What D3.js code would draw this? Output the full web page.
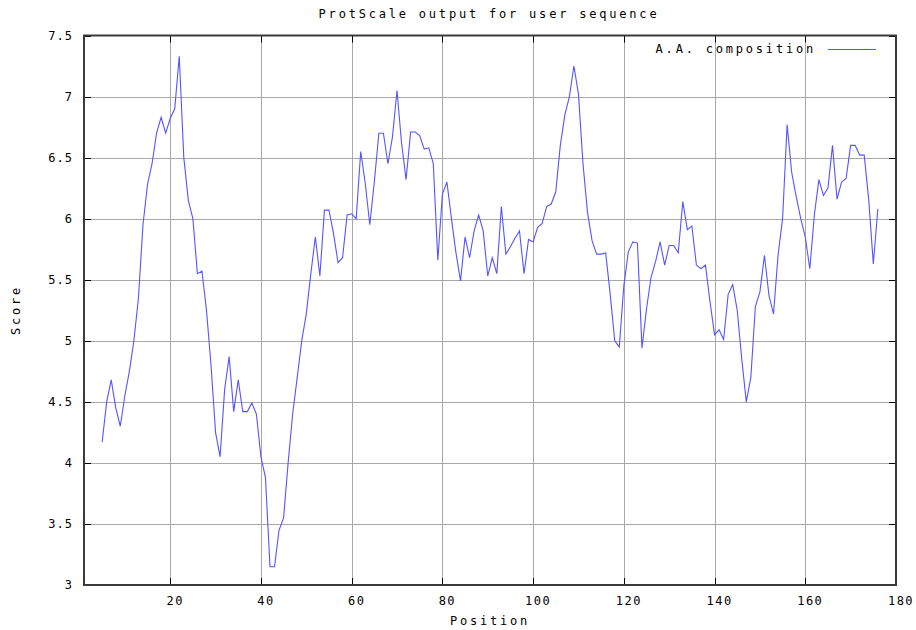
<!DOCTYPE html>
<html>
<head>
<meta charset="utf-8">
<title>ProtScale output for user sequence</title>
<script src="https://cdn.jsdelivr.net/npm/d3@7"></script>
<style>
	body { margin:0; background:#fff; }
	svg text { font-family:"DejaVu Sans Mono", monospace; fill:#000; }
</style>
</head>
<body>
<div id="chart"></div>
<script>

// Data
//---------
var title = "ProtScale output for user sequence";
var seriesName = "A.A. composition";
var xLabel = "Position";
var yLabel = "Score";

var xTicks = [20, 40, 60, 80, 100, 120, 140, 160, 180];
var yTicks = [3, 3.5, 4, 4.5, 5, 5.5, 6, 6.5, 7, 7.5];

// first position of the window (window size 9)
var startPosition = 5;

// scores, one per position from startPosition
var scores = [
	4.17, 4.50, 4.68, 4.45, 4.30, 4.55, 4.75, 5.00, 5.35, 5.95,   // 5-14
	6.28, 6.45, 6.70, 6.83, 6.70, 6.82, 6.90, 7.33, 6.50, 6.15,   // 15-24
	6.00, 5.55, 5.57, 5.25, 4.80, 4.25, 4.05, 4.60, 4.87, 4.42,   // 25-34
	4.68, 4.42, 4.42, 4.49, 4.40, 4.05, 3.88, 3.15, 3.15, 3.45,   // 35-44
	3.55, 4.00, 4.40, 4.70, 5.00, 5.22, 5.55, 5.85, 5.53, 6.07,   // 45-54
	6.07, 5.88, 5.64, 5.68, 6.03, 6.04, 6.00, 6.55, 6.29, 5.95,   // 55-64
	6.30, 6.70, 6.70, 6.45, 6.67, 7.05, 6.62, 6.32, 6.71, 6.71,   // 65-74
	6.68, 6.57, 6.58, 6.45, 5.66, 6.20, 6.30, 6.00, 5.72, 5.49,   // 75-84
	5.85, 5.68, 5.90, 6.03, 5.90, 5.53, 5.68, 5.55, 6.10, 5.71,   // 85-94
	5.77, 5.84, 5.90, 5.55, 5.83, 5.81, 5.93, 5.96, 6.10, 6.12,   // 95-104
	6.22, 6.60, 6.85, 7.00, 7.25, 7.02, 6.45, 6.05, 5.82, 5.71,   // 105-114
	5.71, 5.72, 5.38, 5.00, 4.95, 5.45, 5.73, 5.81, 5.80, 4.94,   // 115-124
	5.26, 5.52, 5.65, 5.81, 5.62, 5.78, 5.78, 5.72, 6.14, 5.91,   // 125-134
	5.94, 5.62, 5.59, 5.62, 5.32, 5.05, 5.09, 5.01, 5.38, 5.46,   // 135-144
	5.25, 4.85, 4.50, 4.70, 5.28, 5.40, 5.70, 5.37, 5.22, 5.70,   // 145-154
	6.00, 6.77, 6.38, 6.18, 6.00, 5.85, 5.59, 6.03, 6.32, 6.19,   // 155-164
	6.25, 6.60, 6.16, 6.30, 6.33, 6.60, 6.60, 6.52, 6.52, 6.15,   // 165-174
	5.63, 6.08                                                    // 175-176
];

// Setup
//---------
var width = 916;
var height = 630;
var plotLeft = 84, plotRight = 896, plotTop = 35.5, plotBottom = 585;
var lineColor = "#5555ff";
var gridColor = "#a8a8a8";
var tickLen = 7;

var svg = d3.select("#chart").append("svg")
	.attr("width", width)
	.attr("height", height);

var x = d3.scaleLinear().domain([1, 180]).range([plotLeft, plotRight]);
var y = d3.scaleLinear().domain([3, 7.5]).range([plotBottom, plotTop]);

// Grid
//---------
var grid = svg.append("g").attr("stroke", gridColor).attr("stroke-width", 1);

grid.selectAll(".gx").data(xTicks.slice(0, -1)).enter().append("line")
	.attr("x1", function(d) { return Math.round(x(d)) + 0.5; })
	.attr("x2", function(d) { return Math.round(x(d)) + 0.5; })
	.attr("y1", plotTop)
	.attr("y2", plotBottom);

grid.selectAll(".gy").data(yTicks.slice(1, -1)).enter().append("line")
	.attr("x1", plotLeft)
	.attr("x2", plotRight)
	.attr("y1", function(d) { return Math.round(y(d)) + 0.5; })
	.attr("y2", function(d) { return Math.round(y(d)) + 0.5; });

// Ticks (inward, all four sides)
//---------
var ticks = svg.append("g").attr("stroke", "#000").attr("stroke-width", 1);

xTicks.forEach(function(t) {
	var px = Math.round(x(t)) + 0.5;
	ticks.append("line").attr("x1", px).attr("x2", px).attr("y1", plotBottom).attr("y2", plotBottom - tickLen);
	ticks.append("line").attr("x1", px).attr("x2", px).attr("y1", plotTop).attr("y2", plotTop + tickLen);
});
yTicks.forEach(function(t) {
	var py = Math.round(y(t)) + 0.5;
	ticks.append("line").attr("x1", plotLeft).attr("x2", plotLeft + tickLen).attr("y1", py).attr("y2", py);
	ticks.append("line").attr("x1", plotRight).attr("x2", plotRight - tickLen).attr("y1", py).attr("y2", py);
});

// Series line
//---------
var line = d3.line()
	.x(function(d, i) { return x(startPosition + i); })
	.y(function(d) { return y(d); });

svg.append("path")
	.datum(scores)
	.attr("d", line)
	.attr("fill", "none")
	.attr("stroke", lineColor)
	.attr("stroke-width", 1.1);

// Border
//---------
svg.append("rect")
	.attr("x", plotLeft)
	.attr("y", plotTop)
	.attr("width", plotRight - plotLeft)
	.attr("height", plotBottom - plotTop)
	.attr("fill", "none")
	.attr("stroke", "#3a3a3a")
	.attr("stroke-width", 2);

// Tick labels
//---------
svg.selectAll(".xl").data(xTicks).enter().append("text")
	.attr("x", function(d) { return x(d) + 5; })
	.attr("y", 601)
	.attr("text-anchor", "middle")
	.attr("dominant-baseline", "central")
	.attr("font-size", 12)
	.attr("letter-spacing", 1.5)
	.text(function(d) { return d; });

svg.selectAll(".yl").data(yTicks).enter().append("text")
	.attr("x", 73)
	.attr("y", function(d) { return y(d); })
	.attr("text-anchor", "end")
	.attr("dominant-baseline", "central")
	.attr("font-size", 12)
	.attr("letter-spacing", 1)
	.text(function(d) { return d; });

// Titles
//---------
svg.append("text")
	.attr("x", 489)
	.attr("y", 14)
	.attr("text-anchor", "middle")
	.attr("dominant-baseline", "central")
	.attr("font-size", 12)
	.attr("letter-spacing", 2.8)
	.text(title);

svg.append("text")
	.attr("x", 490)
	.attr("y", 621)
	.attr("text-anchor", "middle")
	.attr("dominant-baseline", "central")
	.attr("font-size", 12)
	.attr("letter-spacing", 2.8)
	.text(xLabel);

svg.append("text")
	.attr("transform", "translate(16,310) rotate(-90)")
	.attr("text-anchor", "middle")
	.attr("dominant-baseline", "central")
	.attr("font-size", 12)
	.attr("letter-spacing", 2.8)
	.text(yLabel);

// Legend
//---------
svg.append("text")
	.attr("x", 816)
	.attr("y", 49)
	.attr("text-anchor", "end")
	.attr("dominant-baseline", "central")
	.attr("font-size", 12)
	.attr("letter-spacing", 2.8)
	.text(seriesName);

svg.append("line")
	.attr("x1", 828)
	.attr("x2", 876)
	.attr("y1", 49.5)
	.attr("y2", 49.5)
	.attr("stroke", lineColor)
	.attr("stroke-width", 1.1);

</script>
</body>
</html>
